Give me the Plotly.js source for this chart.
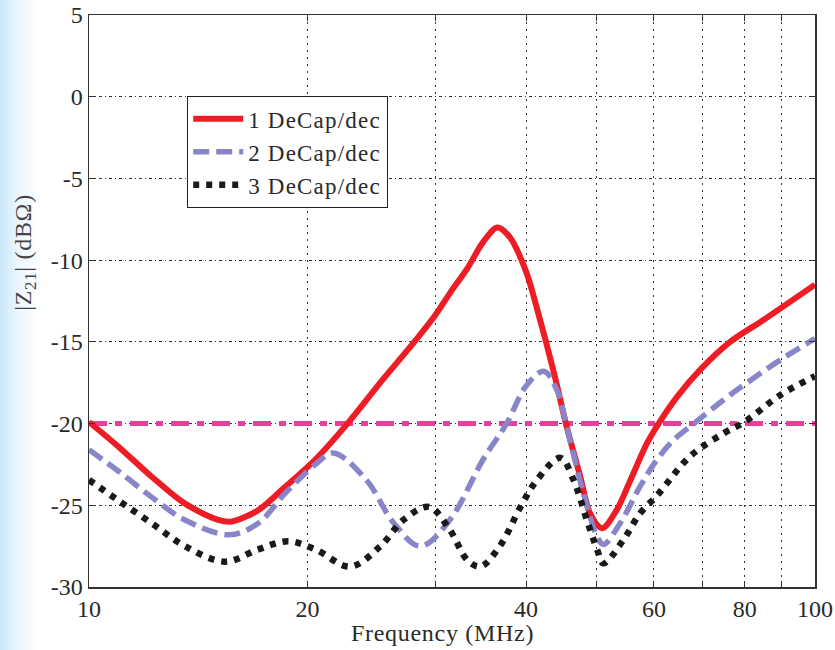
<!DOCTYPE html>
<html>
<head>
<meta charset="utf-8">
<script src="https://cdn.plot.ly/plotly-3.0.1.min.js"></script>
<style>
html, body { margin: 0; padding: 0; }
body { width: 835px; height: 650px; background: linear-gradient(to right, #c8e5fb 0px, #d6edfc 6px, #ecf6fe 18px, #ffffff 40px); }
#chart { width: 835px; height: 650px; }
text.legendtext { letter-spacing: 1.2px; }
text.annotation-text { letter-spacing: 0.7px; }
</style>
</head>
<body>
<div id="chart"></div>
<script>
// Frequencies (MHz) and |Z21| (dBOhm)
const freq1 = [10, 10.97, 12.2, 13.56, 15.07, 15.7, 17.1, 18.6, 20.5, 22.7, 25.4, 28.3, 30, 31.4, 33.2, 34.9, 36.5, 38.0, 40, 41.4, 43.7, 45.5, 47.5, 49.0, 50.9, 53.3, 55.7, 58.7, 60.9, 64.6, 69.5, 76.4, 84.9, 100];
const z1 = [-19.9, -21.4, -23.25, -24.9, -25.9, -26.0, -25.3, -23.9, -22.2, -20.0, -17.3, -14.8, -13.36, -12.03, -10.5, -8.9, -8.0, -8.6, -10.7, -12.95, -16.9, -20.2, -23.25, -25.5, -26.4, -25.3, -23.45, -21.2, -20.0, -18.35, -16.7, -15.0, -13.66, -11.5];

const freq2 = [10, 10.97, 12.2, 13.56, 15.6, 17.1, 18.6, 20.5, 21.7, 24.1, 26.3, 28.6, 31.4, 34.9, 37.6, 40, 42.3, 44.1, 45.5, 48.0, 50.1, 51.1, 53.9, 57.4, 60.6, 63.9, 68.1, 74.8, 80.6, 89.6, 100];
const z2 = [-21.6, -22.9, -24.5, -25.9, -26.8, -26.1, -24.3, -22.5, -21.8, -23.45, -26.1, -27.5, -25.9, -22.2, -20.0, -17.7, -16.8, -17.95, -20.2, -24.3, -26.9, -27.4, -26.1, -23.86, -22.2, -21.0, -20.0, -18.56, -17.5, -16.1, -14.8];

const freq3 = [10, 10.97, 12.2, 13.56, 15.4, 17.1, 18.8, 20.5, 22.9, 25.2, 27.1, 29.4, 31.4, 33.2, 34.6, 36.8, 39.3, 41.4, 44.6, 46.5, 48.5, 50.1, 51.1, 54.5, 57.4, 60.6, 67.3, 74.8, 80, 89.6, 100];
const z3 = [-23.45, -24.7, -26.1, -27.5, -28.45, -27.7, -27.2, -27.7, -28.75, -27.5, -25.9, -25.1, -26.5, -28.35, -28.75, -27.5, -25.1, -23.45, -22.1, -23.45, -25.9, -27.7, -28.55, -27.1, -25.5, -24.4, -22.0, -20.6, -19.9, -18.25, -17.1];

const limitFreq = [10, 100];
const limitZ = [-20, -20];

const seriesNames = ['1 DeCap/dec', '2 DeCap/dec', '3 DeCap/dec'];

const xTickVals = [10, 20, 40, 60, 80, 100];
const xTickText = ['10', '20', '40', '60', '80', '100'];
const xMinorVals = [30, 50, 70, 90];
const yTickVals = [-30, -25, -20, -15, -10, -5, 0, 5];
const yTickText = ['-30', '-25', '-20', '-15', '-10', '-5', '0', '5'];

const serif = '"Liberation Serif", "Times New Roman", serif';
const textColor = '#2a2a2a';

const traces = [
  { x: limitFreq, y: limitZ, mode: 'lines', showlegend: false, hoverinfo: 'skip',
    line: { color: '#e6409a', width: 5, dash: '18px,8px,7px,8px' } },
  { x: freq1, y: z1, mode: 'lines', name: seriesNames[0],
    line: { color: '#ee1c25', width: 6, shape: 'spline', smoothing: 0.9 } },
  { x: freq2, y: z2, mode: 'lines', name: seriesNames[1],
    line: { color: '#8886c8', width: 5.5, dash: '16px,7px', shape: 'spline', smoothing: 1 } },
  { x: freq3, y: z3, mode: 'lines', name: seriesNames[2],
    line: { color: '#1a1a1a', width: 6.5, dash: '6px,7px', shape: 'spline', smoothing: 1 } }
];

const layout = {
  width: 835, height: 650,
  margin: { l: 89, r: 20, t: 15, b: 63 },
  paper_bgcolor: 'rgba(0,0,0,0)',
  plot_bgcolor: '#ffffff',
  font: { family: serif, size: 24, color: textColor },
  showlegend: true,
  legend: {
    x: 0.135, y: 0.858, xanchor: 'left', yanchor: 'top',
    bgcolor: '#ffffff', bordercolor: '#222', borderwidth: 1.2,
    font: { family: serif, size: 23, color: textColor },
    itemwidth: 50,
    tracegroupgap: 0
  },
  xaxis: {
    type: 'log', range: [1, 2],
    tickvals: xTickVals, ticktext: xTickText,
    ticks: 'inside', ticklen: 6, tickwidth: 1, tickcolor: '#333',
    showline: true, linecolor: '#333', linewidth: 1.5, mirror: 'ticks',
    showgrid: true, gridcolor: '#333', gridwidth: 1, griddash: '2px,5px',
    zeroline: false,
    minor: { tickvals: xMinorVals, ticks: 'inside', ticklen: 6, tickcolor: '#333',
             showgrid: true, gridcolor: '#333', gridwidth: 1, griddash: '2px,5px' },
    tickfont: { family: serif, size: 24, color: textColor },
    fixedrange: true
  },
  yaxis: {
    range: [-30, 5],
    tickvals: yTickVals, ticktext: yTickText,
    ticks: 'inside', ticklen: 6, tickwidth: 1, tickcolor: '#333',
    showline: true, linecolor: '#333', linewidth: 1.5, mirror: 'ticks',
    showgrid: true, gridcolor: '#333', gridwidth: 1, griddash: '3px,3px,1px,3px',
    zeroline: false,
    tickfont: { family: serif, size: 24, color: textColor },
    fixedrange: true
  },
  annotations: [
    { text: 'Frequency (MHz)', xref: 'paper', yref: 'paper', x: 0.487, y: -0.080,
      xanchor: 'center', yanchor: 'middle', showarrow: false,
      font: { family: serif, size: 24, color: textColor } },
    { text: '|Z<sub>21</sub>| (dBΩ)', xref: 'paper', yref: 'paper', x: -0.0882, y: 0.586,
      xanchor: 'center', yanchor: 'middle', showarrow: false, textangle: -90,
      font: { family: serif, size: 24, color: '#444' } }
  ]
};

Plotly.newPlot('chart', traces, layout, { displayModeBar: false, staticPlot: true });
</script>
</body>
</html>
